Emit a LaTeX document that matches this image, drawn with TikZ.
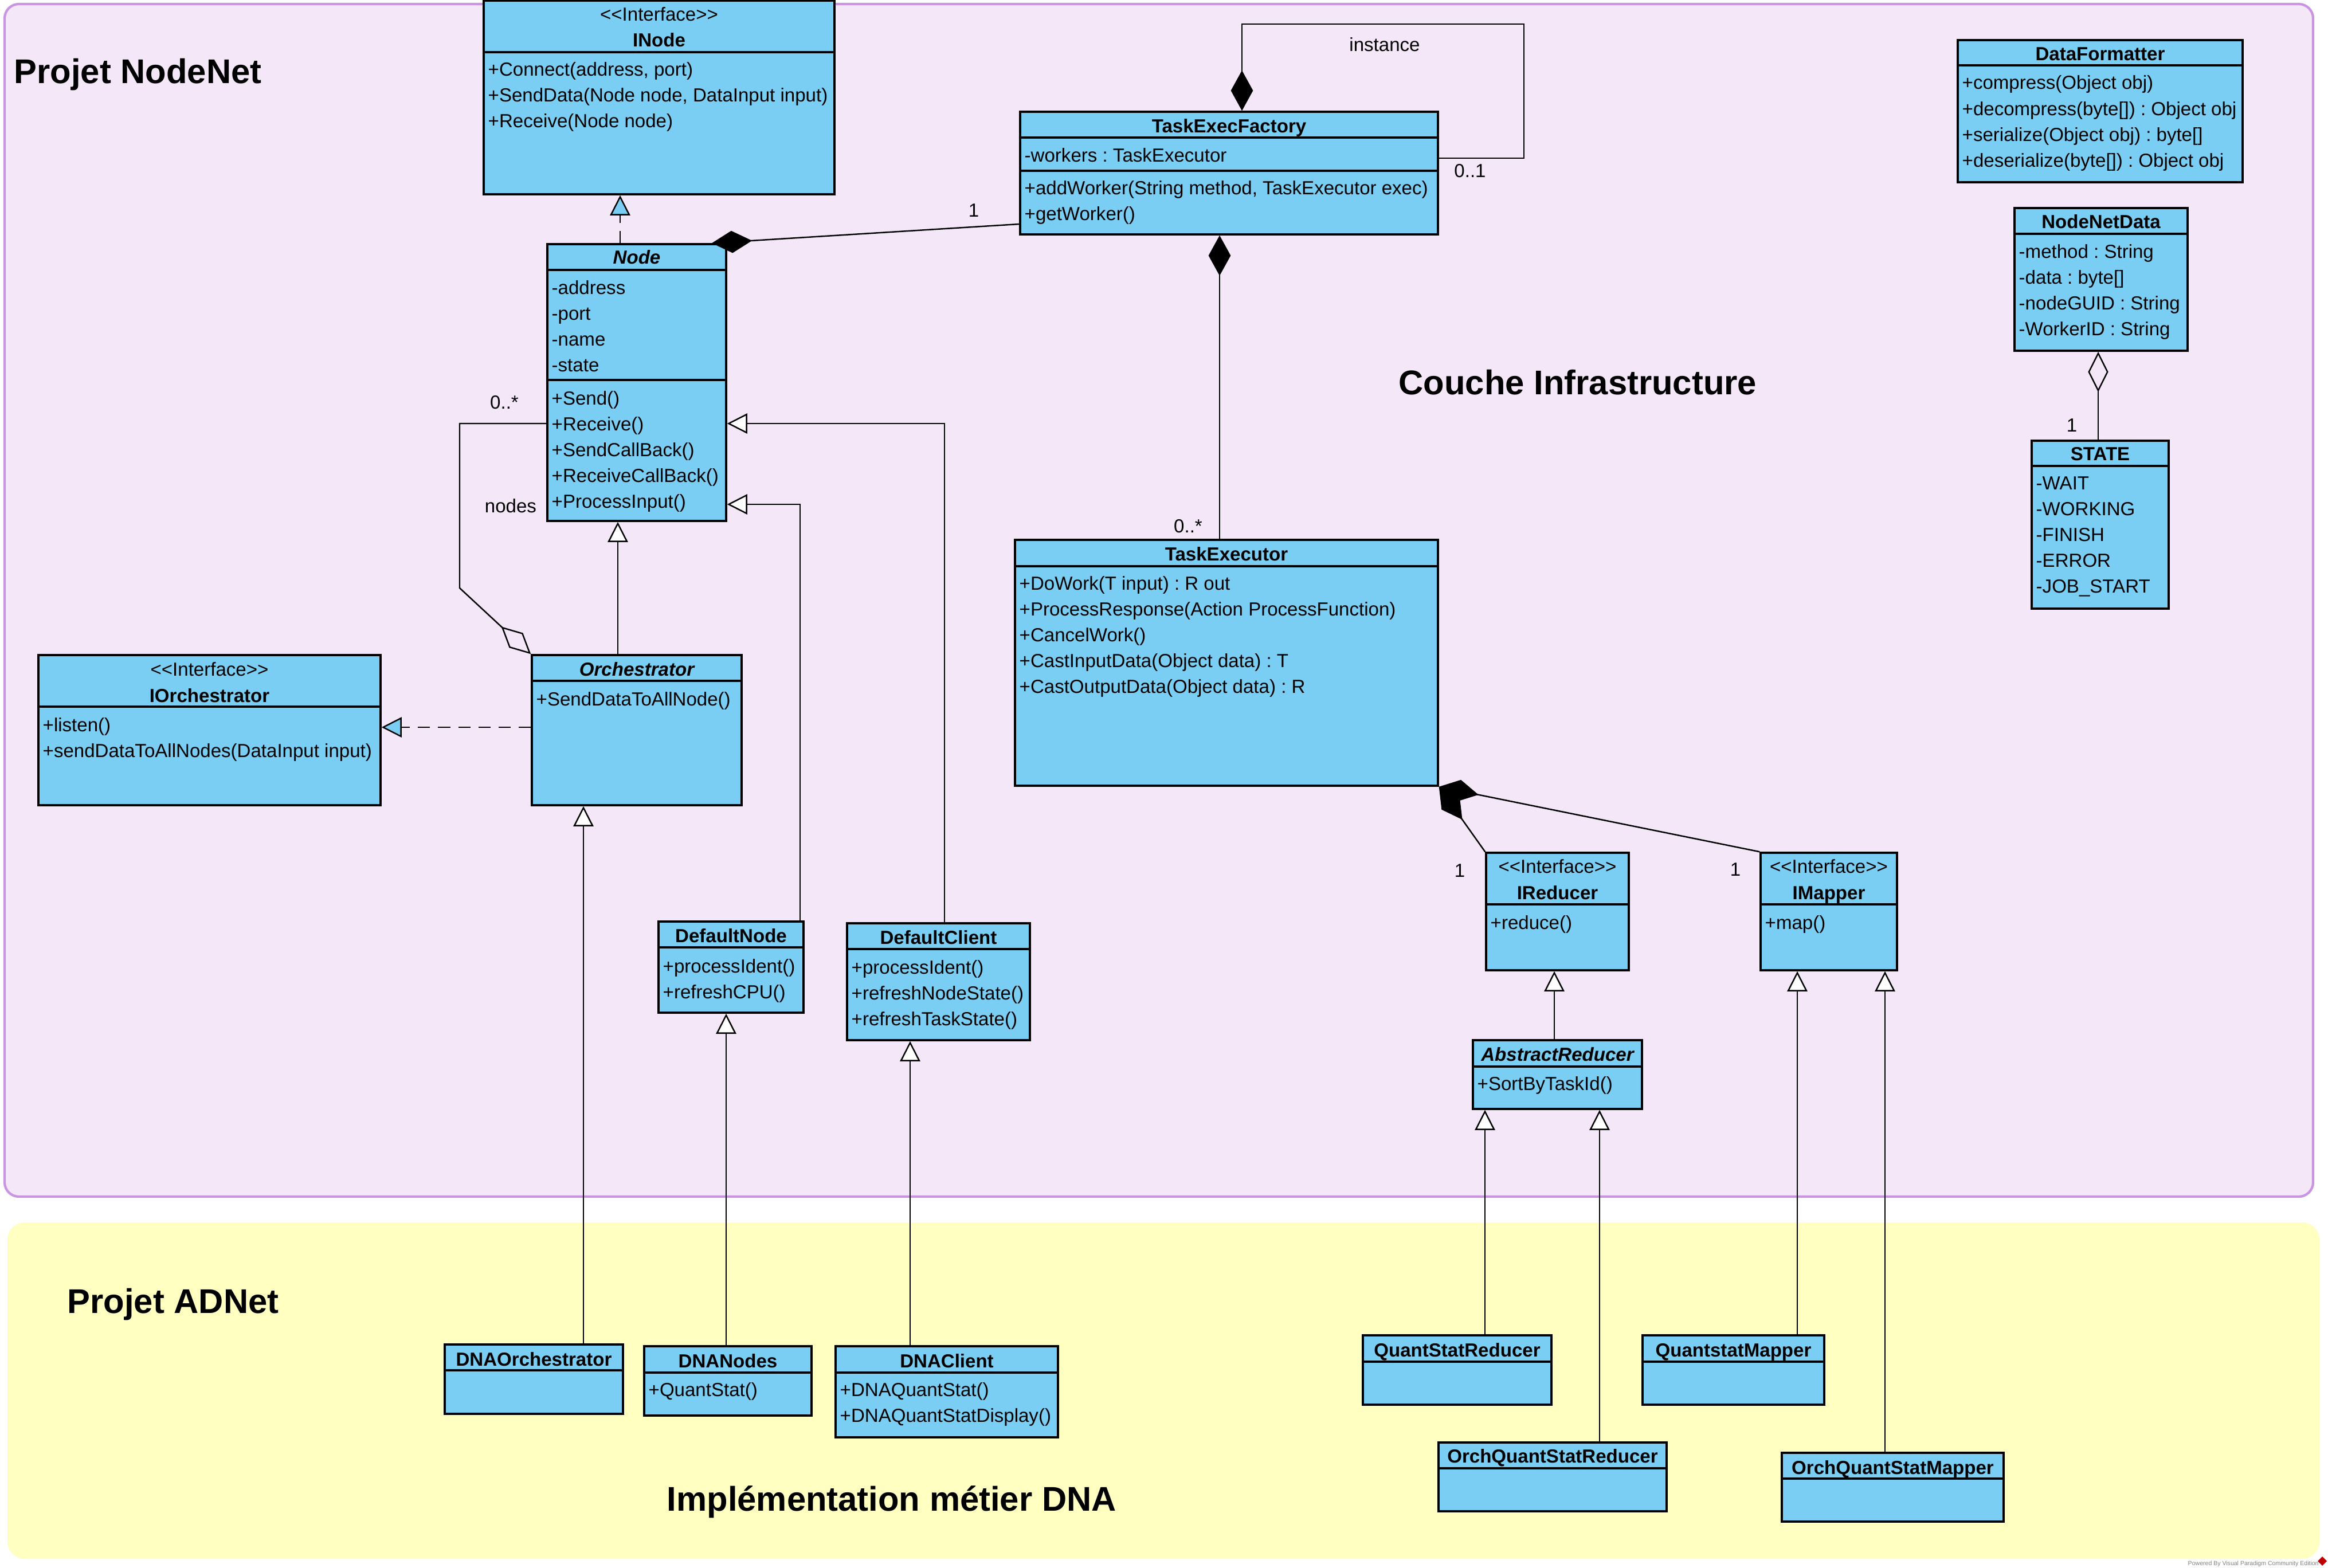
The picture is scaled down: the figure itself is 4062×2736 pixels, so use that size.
\documentclass[tikz,border=0pt]{standalone}
\usepackage{fontspec}
\setmainfont{Liberation Sans}
\usetikzlibrary{arrows.meta,fit}
\frenchspacing
\definecolor{clsblue}{RGB}{122,206,244}
\definecolor{lav}{RGB}{243,231,248}
\definecolor{lavb}{RGB}{200,150,225}
\definecolor{yel}{RGB}{255,255,194}
\tikzset{
  clsbox/.style={draw=black, line width=1pt, fill=clsblue, inner sep=0pt},
  divline/.style={line width=1pt},
  txt/.style={font=\fontsize{9.4}{12}\selectfont, inner sep=0pt, anchor=base west},
  ttl/.style={font=\fontsize{9.4}{12}\selectfont\bfseries, inner sep=0pt, anchor=base},
  ttli/.style={font=\fontsize{9.4}{12}\selectfont\bfseries\itshape, inner sep=0pt, anchor=base},
  ster/.style={font=\fontsize{9.4}{12}\selectfont, inner sep=0pt, anchor=base},
  lbl/.style={font=\fontsize{9.4}{12}\selectfont, inner sep=0pt, anchor=base},
  big/.style={font=\fontsize{17}{20}\selectfont\bfseries, inner sep=0pt, anchor=base west},
  conn/.style={line width=0.7pt},
  gen/.style={conn, -{Triangle[length=10pt,width=10pt,fill=white]}},
  real/.style={conn, dash pattern=on 6pt off 4pt, -{Triangle[length=10pt,width=10pt,fill=clsblue]}},
  comp/.style={conn, {Diamond[length=20pt,width=11pt]}-},
  agg/.style={conn, {Diamond[length=20pt,width=10pt,open]}-},
}
\newcommand\umlcls[5]{\node[clsbox, fit={(#2,#3) (#4,#5)}] (#1) {};}
\newcommand\umldiv[2]{\draw[divline] (#1.west |- 0,#2) -- (#1.east |- 0,#2);}
\newcommand\umlrows[4]{\foreach \t [count=\i] in {#4} {\node[txt] (#1\i) at ({#2},{#3+45*(\i-1)}) {\t};}}
\newcommand\stereo{\mbox{<}\mbox{<}Interface\mbox{>}\mbox{>}}
\begin{document}
\begin{tikzpicture}[x=0.01cm,y=-0.01cm]
\useasboundingbox (0,0) rectangle (4062,2736);
% regions
\draw[fill=lav, draw=lavb, line width=1.2pt, rounded corners=0.25cm] (8,7) rectangle (4036,2088);
\fill[yel, rounded corners=0.3cm] (13,2133) rectangle (4047,2720);
\node[big] (tnodenet) at (24,145) {Projet NodeNet};
\node[big] (tinfra) at (2440,688) {Couche Infrastructure};
\node[big] (tadnet) at (117,2291) {Projet ADNet};
\node[big] (timpl) at (1163,2636) {Implémentation métier DNA};
\node[font=\fontsize{3}{3}\selectfont, text=gray, inner sep=0pt, anchor=base west] (powered) at (3817,2731) {Powered By Visual Paradigm Community Edition};
\fill[red!75!black] (4052,2716) -- (4060,2724) -- (4052,2732) -- (4044,2724) -- cycle;

% INode
\umlcls{inode}{844}{1}{1456}{339}
\umldiv{inode}{91}
\node[ster] (inodes) at (inode.north |- 0,36) {\stereo};
\node[ttl] (inodet) at (inode.north |- 0,81) {INode};
\umlrows{inodeop}{851}{132}{{+Connect(address, port)},{+SendData(Node node, DataInput input)},{+Receive(Node node)}}

% Node
\umlcls{node}{955}{426}{1267}{909}
\umldiv{node}{471}
\umldiv{node}{663}
\node[ttli] (nodet) at (node.north |- 0,460) {Node};
\umlrows{nodeat}{962}{513}{{-address},{-port},{-name},{-state}}
\umlrows{nodeop}{962}{706}{{+Send()},{+Receive()},{+SendCallBack()},{+ReceiveCallBack()},{+ProcessInput()}}

% TaskExecFactory
\umlcls{tef}{1780}{195}{2509}{409}
\umldiv{tef}{240}
\umldiv{tef}{298}
\node[ttl] (teft) at (tef.north |- 0,231) {TaskExecFactory};
\umlrows{tefat}{1787}{282}{{-workers : TaskExecutor}}
\umlrows{tefop}{1787}{339}{{+addWorker(String method, TaskExecutor exec)},{+getWorker()}}

% TaskExecutor
\umlcls{texec}{1771}{942}{2509}{1371}
\umldiv{texec}{988}
\node[ttl] (texect) at (texec.north |- 0,978) {TaskExecutor};
\umlrows{texecop}{1778}{1029}{{+DoWork(T input) : R out},{+ProcessResponse(Action ProcessFunction)},{+CancelWork()},{+CastInputData(Object data) : T},{+CastOutputData(Object data) : R}}

% DataFormatter
\umlcls{dfmt}{3416}{70}{3913}{318}
\umldiv{dfmt}{114}
\node[ttl] (dfmtt) at (dfmt.north |- 0,105) {DataFormatter};
\umlrows{dfmtop}{3423}{156}{{+compress(Object obj)},{+decompress(byte[]) : Object obj},{+serialize(Object obj) : byte[]},{+deserialize(byte[]) : Object obj}}

% NodeNetData
\umlcls{ndata}{3515}{363}{3817}{612}
\umldiv{ndata}{408}
\node[ttl] (ndatat) at (ndata.north |- 0,398) {NodeNetData};
\umlrows{ndataat}{3522}{450}{{-method : String},{-data : byte[]},{-nodeGUID : String},{-WorkerID : String}}

% STATE
\umlcls{state}{3545}{769}{3784}{1062}
\umldiv{state}{813}
\node[ttl] (statet) at (state.north |- 0,803) {STATE};
\umlrows{stateat}{3552}{854}{{-WAIT},{-WORKING},{-FINISH},{-ERROR},{-JOB\_START}}

% IOrchestrator
\umlcls{iorch}{67}{1143}{664}{1405}
\umldiv{iorch}{1233}
\node[ster] (iorchs) at (iorch.north |- 0,1179) {\stereo};
\node[ttl] (iorcht) at (iorch.north |- 0,1225) {IOrchestrator};
\umlrows{iorchop}{74}{1276}{{+listen()},{+sendDataToAllNodes(DataInput input)}}

% Orchestrator
\umlcls{orch}{928}{1143}{1294}{1405}
\umldiv{orch}{1188}
\node[ttli] (orcht) at (orch.north |- 0,1179) {Orchestrator};
\umlrows{orchop}{935}{1231}{{+SendDataToAllNode()}}

% DefaultNode
\umlcls{dnode}{1149}{1608}{1402}{1767}
\umldiv{dnode}{1653}
\node[ttl] (dnodet) at (dnode.north |- 0,1644) {DefaultNode};
\umlrows{dnodeop}{1156}{1697}{{+processIdent()},{+refreshCPU()}}

% DefaultClient
\umlcls{dclient}{1478}{1611}{1797}{1815}
\umldiv{dclient}{1656}
\node[ttl] (dclientt) at (dclient.north |- 0,1647) {DefaultClient};
\umlrows{dclientop}{1485}{1699}{{+processIdent()},{+refreshNodeState()},{+refreshTaskState()}}

% DNAOrchestrator
\umlcls{dnaorch}{776}{2346}{1087}{2467}
\umldiv{dnaorch}{2391}
\node[ttl] (dnaorcht) at (dnaorch.north |- 0,2383) {DNAOrchestrator};

% DNANodes
\umlcls{dnanodes}{1124}{2349}{1416}{2470}
\umldiv{dnanodes}{2395}
\node[ttl] (dnanodest) at (dnanodes.north |- 0,2386) {DNANodes};
\umlrows{dnanodesop}{1131}{2436}{{+QuantStat()}}

% DNAClient
\umlcls{dnaclient}{1458}{2349}{1846}{2508}
\umldiv{dnaclient}{2395}
\node[ttl] (dnaclientt) at (dnaclient.north |- 0,2386) {DNAClient};
\umlrows{dnaclientop}{1465}{2436}{{+DNAQuantStat()},{+DNAQuantStatDisplay()}}

% IReducer
\umlcls{ired}{2593}{1488}{2842}{1693}
\umldiv{ired}{1578}
\node[ster] (ireds) at (ired.north |- 0,1523) {\stereo};
\node[ttl] (iredt) at (ired.north |- 0,1569) {IReducer};
\umlrows{iredop}{2600}{1621}{{+reduce()}}

% IMapper
\umlcls{imap}{3072}{1488}{3310}{1693}
\umldiv{imap}{1578}
\node[ster] (imaps) at (imap.north |- 0,1523) {\stereo};
\node[ttl] (imapt) at (imap.north |- 0,1569) {IMapper};
\umlrows{imapop}{3079}{1621}{{+map()}}

% AbstractReducer
\umlcls{absred}{2570}{1815}{2865}{1935}
\umldiv{absred}{1861}
\node[ttli] (absredt) at (absred.north |- 0,1851) {AbstractReducer};
\umlrows{absredop}{2577}{1902}{{+SortByTaskId()}}

% QuantStatReducer
\umlcls{qsr}{2378}{2330}{2707}{2451}
\umldiv{qsr}{2376}
\node[ttl] (qsrt) at (qsr.north |- 0,2367) {QuantStatReducer};

% OrchQuantStatReducer
\umlcls{oqsr}{2510}{2517}{2908}{2637}
\umldiv{oqsr}{2562}
\node[ttl] (oqsrt) at (oqsr.north |- 0,2552) {OrchQuantStatReducer};

% QuantstatMapper
\umlcls{qsm}{2866}{2330}{3183}{2451}
\umldiv{qsm}{2376}
\node[ttl] (qsmt) at (qsm.north |- 0,2367) {QuantstatMapper};

% OrchQuantStatMapper
\umlcls{oqsm}{3109}{2535}{3496}{2655}
\umldiv{oqsm}{2580}
\node[ttl] (oqsmt) at (oqsm.north |- 0,2572) {OrchQuantStatMapper};

% ---------- connectors ----------
\draw[real] (1082,0 |- node.north) -- (1082,0 |- inode.south);
\draw[comp] (1242,0 |- node.north) -- (tef.west |- 0,391);
\draw[comp] (2167,0 |- tef.north) -- (2167,42) -- (2659,42) -- (2659,276) -- (tef.east |- 0,276);
\draw[comp] (2128,0 |- tef.south) -- (2128,0 |- texec.north);
\draw[comp] (texec.south east) -- (ired.north west);
\draw[comp] (texec.south east) -- (imap.north west);
\draw[real] (orch.west |- 0,1269) -- (iorch.east |- 0,1269);
\draw[gen] (1078,0 |- orch.north) -- (1078,0 |- node.south);
\draw[agg] (orch.north west) -- (802,1026) -- (802,739) -- (node.west |- 0,739);
\draw[gen] (1396,0 |- dnode.north) |- (node.east |- 0,880);
\draw[gen] (1648,0 |- dclient.north) |- (node.east |- 0,739);
\draw[gen] (1018,0 |- dnaorch.north) -- (1018,0 |- orch.south);
\draw[gen] (1267,0 |- dnanodes.north) -- (1267,0 |- dnode.south);
\draw[gen] (1588,0 |- dnaclient.north) -- (1588,0 |- dclient.south);
\draw[gen] (2712,0 |- absred.north) -- (2712,0 |- ired.south);
\draw[gen] (2591,0 |- qsr.north) -- (2591,0 |- absred.south);
\draw[gen] (2791,0 |- oqsr.north) -- (2791,0 |- absred.south);
\draw[gen] (3136,0 |- qsm.north) -- (3136,0 |- imap.south);
\draw[gen] (3289,0 |- oqsm.north) -- (3289,0 |- imap.south);
\draw[agg] (3661,0 |- ndata.south) -- (3661,0 |- state.north);

% ---------- labels ----------
\node[lbl] (l1) at (1699,378) {1};
\node[lbl] (l2) at (2416,90) {instance};
\node[lbl] (l3) at (2565,309) {0..1};
\node[lbl] (l4) at (2073,929) {0..*};
\node[lbl] (l5) at (2547,1530) {1};
\node[lbl] (l6) at (3028,1528) {1};
\node[lbl] (l7) at (880,713) {0..*};
\node[lbl] (l8) at (891,894) {nodes};
\node[lbl] (l9) at (3615,753) {1};
\end{tikzpicture}
\end{document}
